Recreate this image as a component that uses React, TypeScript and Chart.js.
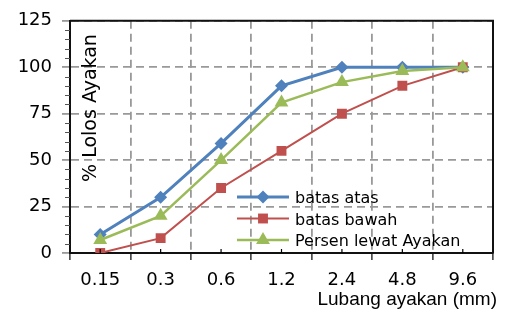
import React, { useEffect, useRef } from 'react';
import { Chart, registerables } from 'chart.js';
Chart.register(...registerables);

const categories = ['0.15', '0.3', '0.6', '1.2', '2.4', '4.8', '9.6'];
const batasAtas = [10, 30, 59, 90, 100, 100, 100];
const batasBawah = [0, 8, 35, 55, 75, 90, 100];
const persenLewat = [7, 20, 50, 81, 92, 98, 100];
const seriesNames = ['batas atas', 'batas bawah', 'Persen lewat Ayakan'];
const yMin = 0;
const yMax = 125;
const yStep = 25;
const yMinorStep = 5;
const yTitle = '% Lolos Ayakan';
const xTitle = 'Lubang ayakan (mm)';

const BLUE = '#4F81BD';
const RED = '#C0504D';
const GREEN = '#9BBB59';
const GRID = '#999999';

function drawMarker(ctx: CanvasRenderingContext2D, style: string, x: number, y: number, r: number, color: string) {
  ctx.save();
  ctx.fillStyle = color;
  ctx.beginPath();
  if (style === 'rectRot') {
    ctx.moveTo(x - r, y);
    ctx.lineTo(x, y - r);
    ctx.lineTo(x + r, y);
    ctx.lineTo(x, y + r);
  } else if (style === 'rect') {
    const s = r * Math.SQRT1_2;
    ctx.rect(x - s, y - s, 2 * s, 2 * s);
  } else {
    const h = r * 0.866;
    ctx.moveTo(x, y - r);
    ctx.lineTo(x + h, y + r / 2);
    ctx.lineTo(x - h, y + r / 2);
  }
  ctx.closePath();
  ctx.fill();
  ctx.restore();
}

const decorPlugin = {
  id: 'decor',
  afterDraw(chart: any) {
    const ctx: CanvasRenderingContext2D = chart.ctx;
    const { left, right, top, bottom } = chart.chartArea;
    const xs = chart.scales.x;
    const ys = chart.scales.y;
    ctx.save();
    // box top/right
    ctx.strokeStyle = '#111';
    ctx.lineWidth = 2;
    ctx.beginPath();
    ctx.moveTo(left, top);
    ctx.lineTo(right, top);
    ctx.lineTo(right, bottom);
    ctx.stroke();
    // y minor ticks
    ctx.strokeStyle = '#555';
    ctx.lineWidth = 1;
    for (let v = yMin; v <= yMax; v += yMinorStep) {
      if (v % yStep === 0) continue;
      const py = Math.round(ys.getPixelForValue(v)) + 0.5;
      ctx.beginPath();
      ctx.moveTo(left - 5, py);
      ctx.lineTo(left, py);
      ctx.stroke();
    }
    // x minor ticks at category centers
    ctx.strokeStyle = '#000';
    ctx.lineWidth = 1.2;
    for (let i = 0; i < categories.length; i++) {
      const px = xs.getPixelForValue(i);
      ctx.beginPath();
      ctx.moveTo(px, bottom - 4);
      ctx.lineTo(px, bottom);
      ctx.stroke();
    }
    // y title (inside the plot)
    ctx.fillStyle = '#000';
    ctx.font = '19px "DejaVu Sans"';
    ctx.translate(96, 108);
    ctx.rotate(-Math.PI / 2);
    ctx.textAlign = 'center';
    ctx.textBaseline = 'alphabetic';
    ctx.fillText(yTitle, 0, 0);
    ctx.setTransform(1, 0, 0, 1, 0, 0);
    // x title
    ctx.font = '19px "Liberation Sans"';
    ctx.textAlign = 'right';
    ctx.fillText(xTitle, 497, 305);
    // legend
    const ds = chart.data.datasets;
    const order = [0, 1, 2];
    order.forEach((di, row) => {
      const d = ds[di];
      const cy = 197 + row * 21.5;
      ctx.strokeStyle = d.borderColor;
      ctx.lineWidth = d.borderWidth;
      ctx.beginPath();
      ctx.moveTo(237, cy);
      ctx.lineTo(289, cy);
      ctx.stroke();
      drawMarker(ctx, d.pointStyle, 263, cy, d.pointRadius, d.pointBackgroundColor);
      ctx.fillStyle = '#000';
      ctx.font = '16px "DejaVu Sans"';
      ctx.textAlign = 'left';
      ctx.textBaseline = 'alphabetic';
      ctx.fillText(seriesNames[di], 295, cy + 6);
    });
    ctx.restore();
  },
};

export default function App() {
  const ref = useRef<HTMLCanvasElement | null>(null);
  useEffect(() => {
    document.body.style.margin = '0';
    const canvas = ref.current;
    if (!canvas) return;
    const chart = new Chart(canvas, {
      type: 'line',
      data: {
        labels: categories,
        datasets: [
          {
            label: seriesNames[0],
            data: batasAtas,
            borderColor: BLUE,
            backgroundColor: BLUE,
            pointBackgroundColor: BLUE,
            pointBorderColor: BLUE,
            borderWidth: 3,
            pointStyle: 'rectRot',
            pointRadius: 6.5,
            pointBorderWidth: 0,
            order: 3,
          },
          {
            label: seriesNames[1],
            data: batasBawah,
            borderColor: RED,
            backgroundColor: RED,
            pointBackgroundColor: RED,
            pointBorderColor: RED,
            borderWidth: 2,
            pointStyle: 'rect',
            pointRadius: 7,
            pointBorderWidth: 0,
            order: 2,
          },
          {
            label: seriesNames[2],
            data: persenLewat,
            borderColor: GREEN,
            backgroundColor: GREEN,
            pointBackgroundColor: GREEN,
            pointBorderColor: GREEN,
            borderWidth: 2.5,
            pointStyle: 'triangle',
            pointRadius: 8,
            pointBorderWidth: 0,
            order: 1,
          },
        ] as any,
      },
      options: {
        animation: false,
        responsive: false,
        maintainAspectRatio: false,
        layout: { padding: { left: 0, right: 13, top: 19, bottom: 0 } },
        plugins: { legend: { display: false }, tooltip: { enabled: false } },
        elements: { line: { tension: 0 } },
        scales: {
          x: {
            type: 'category',
            offset: true,
            grid: {
              offset: true,
              color: GRID,
              lineWidth: 1.8,
              tickColor: '#000',
              tickLength: 7,
              tickBorderDash: [],
              tickWidth: 1.2,
              drawTicks: true,
            } as any,
            border: { display: true, color: '#111', width: 2, dash: [8, 5] } as any,
            ticks: {
              color: '#000',
              font: { family: '"DejaVu Sans"', size: 18 },
              padding: 10,
              maxRotation: 0,
              autoSkip: false,
            },
            afterFit(scale: any) {
              scale.height = 56;
            },
          },
          y: {
            min: yMin,
            max: yMax,
            grid: {
              color: GRID,
              lineWidth: 1.8,
              tickColor: GRID,
              tickLength: 8,
            },
            border: { display: true, color: '#111', width: 2, dash: [8, 5] } as any,
            ticks: {
              stepSize: yStep,
              color: '#000',
              font: { family: '"DejaVu Sans"', size: 18 },
              padding: 10,
            },
            afterFit(scale: any) {
              scale.width = 70;
            },
          },
        },
      },
      plugins: [decorPlugin],
    });
    return () => chart.destroy();
  }, []);
  return (
    <div style={{ width: 506, height: 309, background: '#fff' }}>
      <canvas ref={ref} width={506} height={309} style={{ display: 'block' }} />
    </div>
  );
}
